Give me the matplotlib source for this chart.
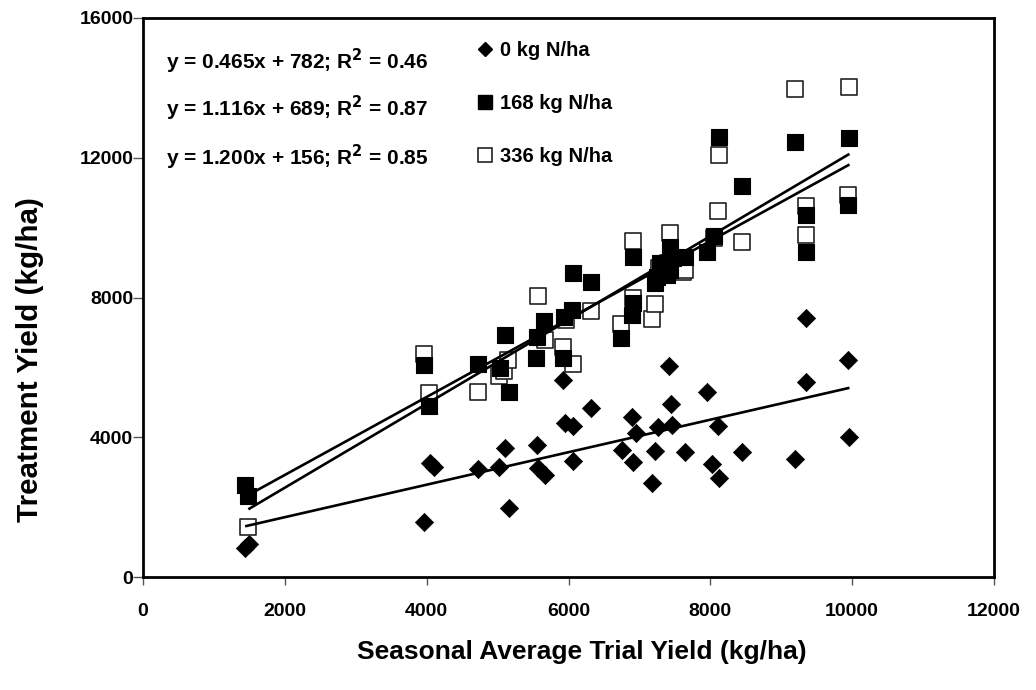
import matplotlib
matplotlib.use("Agg")
import matplotlib.pyplot as plt
from matplotlib.lines import Line2D
import numpy as np

plt.rcParams['font.family'] = ['Liberation Sans', 'DejaVu Sans']
plt.rcParams['font.weight'] = 'bold'

# 0 kg N/ha
x0 = [1440, 1500, 3963, 4040, 4100, 4721, 5025, 5106, 5162, 5553, 5576, 5670,
      5928, 5952, 6060, 6070, 6319, 6751, 6901, 6916, 6949, 7174, 7221, 7268,
      7419, 7442, 7457, 7645, 7950, 8030, 8106, 8128, 8444, 9196, 9347, 9351,
      9948, 9962]
y0 = [820, 950, 1583, 3250, 3150, 3091, 3139, 3683, 1966, 3778, 3111, 2919,
      5638, 4418, 4322, 3320, 4827, 3635, 4589, 3300, 4113, 2699, 3606, 4302,
      6048, 4942, 4350, 3587, 5286, 3234, 4322, 2842, 3587, 3368, 7404, 5590,
      6211, 4015]

# 168 kg N/ha
x168 = [1439, 1485, 3963, 4038, 4721, 5035, 5106, 5162, 5543, 5553, 5656, 5928,
        5942, 6046, 6070, 6314, 6742, 6892, 6916, 6916, 7221, 7245, 7292, 7386,
        7433, 7480, 7433, 7645, 7950, 8050, 8124, 8444, 9196, 9347, 9351, 9948,
        9962]
y168 = [2630, 2318, 6067, 4900, 6096, 5973, 6926, 5303, 6277, 6860, 7336, 6258,
        7450, 7642, 8709, 8434, 6832, 7498, 7833, 9159, 8405, 8595, 8978, 8643,
        8787, 9122, 9444, 9168, 9311, 9760, 12602, 11202, 12459, 9311, 10360,
        10647, 12574]

# 336 kg N/ha
x336 = [1485, 3963, 4038, 4721, 5025, 5096, 5152, 5576, 5670, 5928, 5966, 6060,
        6314, 6742, 6916, 6916, 7174, 7221, 7278, 7400, 7433, 7620, 7645, 8050,
        8106, 8124, 8444, 9187, 9347, 9351, 9948, 9962]
y336 = [1422, 6380, 5257, 5303, 5753, 5904, 6211, 8042, 6783, 6592, 7356, 6096,
        7613, 7241, 7976, 9617, 7384, 7813, 8844, 9000, 9845, 8738, 8787, 9700,
        10484, 12078, 9580, 13958, 9788, 10627, 10933, 14015]

labels = ['0 kg N/ha', '168 kg N/ha', '336 kg N/ha']
slopes = [0.465, 1.116, 1.200]
intercepts = [782, 689, 156]
r2 = [0.46, 0.87, 0.85]

xticks = [0, 2000, 4000, 6000, 8000, 10000, 12000]
yticks = [0, 4000, 8000, 12000, 16000]

fig = plt.figure(figsize=(10.36, 6.90), dpi=100)
ax = fig.add_axes([143/1036, 1 - 577/690, (994 - 143)/1036, (577 - 18)/690])

ax.scatter(x0, y0, marker='D', s=9.3**2, c='black', edgecolors='black',
           linewidths=0.5, zorder=3)
ax.scatter(x336, y336, marker='s', s=11.2**2, facecolors='white',
           edgecolors='#222222', linewidths=1.2, zorder=4)
ax.scatter(x168, y168, marker='s', s=11.2**2, c='black', edgecolors='black',
           linewidths=0.8, zorder=5)

for xs, m, b in zip([x0, x168, x336], slopes, intercepts):
    xl = np.array([min(xs), max(xs)])
    ax.plot(xl, m * xl + b, color='black', lw=1.9, zorder=6,
            solid_capstyle='butt')

ax.set_xlim(0, 12000)
ax.set_ylim(0, 16000)
ax.set_xticks(xticks)
ax.set_yticks(yticks)
ax.set_xticklabels([str(v) for v in xticks], fontsize=14, fontweight='bold')
ax.set_yticklabels([str(v) for v in yticks], fontsize=14, fontweight='bold')
ax.tick_params(axis='x', direction='out', length=6, width=1, color='#555555', pad=13)
ax.tick_params(axis='y', direction='out', length=7, width=1, color='#555555', pad=0)
for sp in ax.spines.values():
    sp.set_linewidth(2.0)
    sp.set_color('black')

ax.set_xlabel('Seasonal Average Trial Yield (kg/ha)', fontsize=19,
              fontweight='bold')
ax.set_ylabel('Treatment Yield (kg/ha)', fontsize=21.3, fontweight='bold')
ax.xaxis.set_label_coords((582 - 143) / 851, -(652 - 577) / 559)
ax.yaxis.set_label_coords((30 - 143) / 851, (577 - 360) / 559)
ax.xaxis.label.set_va('center')
ax.yaxis.label.set_va('center')

eq_y = [61, 108, 157]
for yy, m, b, r in zip(eq_y, slopes, intercepts, r2):
    ax.text(166 / 1036, 1 - yy / 690,
            f'y = {m:.3f}x + {b}; R$^{{\\mathbf{{2}}}}$ = {r:.2f}',
            transform=fig.transFigure, fontsize=15, fontweight='bold',
            va='center', ha='left')

handles = [
    Line2D([], [], marker='D', color='black', ls='none', markersize=7.5),
    Line2D([], [], marker='s', color='black', ls='none', markersize=10.5),
    Line2D([], [], marker='s', markerfacecolor='white', markeredgecolor='#222222',
           ls='none', markersize=10.5, markeredgewidth=1.2),
]
leg = ax.legend(handles, labels, loc='upper left',
                bbox_to_anchor=(476 / 1036, 1 - 41 / 690),
                bbox_transform=fig.transFigure, frameon=False,
                prop={'weight': 'bold', 'size': 14.5}, labelspacing=1.68,
                handlelength=0.9, handletextpad=0.3, borderaxespad=0,
                borderpad=0)

fig.savefig('out.png', dpi=100)
